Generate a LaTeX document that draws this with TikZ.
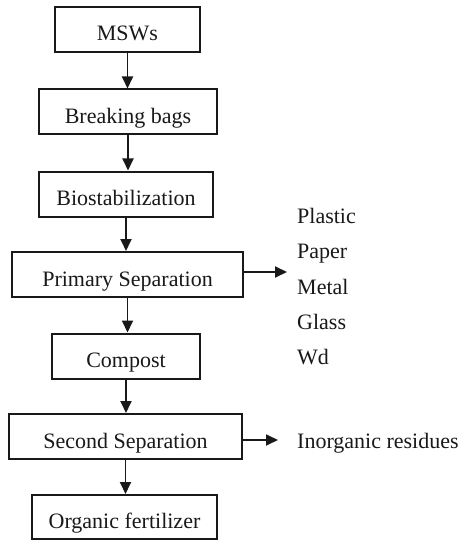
\documentclass[tikz,border=0pt]{standalone}
\usepackage{fontspec}
\setmainfont{Liberation Serif}
\usetikzlibrary{arrows.meta, positioning, calc}

\begin{document}
\begin{tikzpicture}[x=1pt, y=-1pt, >={Triangle[length=12pt, width=11pt]},
    font=\fontsize{22}{26}\selectfont, text=black!90,
    procbox/.style={draw=black!90, line width=2pt, rectangle, inner sep=0pt, minimum height=45pt, text height=26pt, text depth=3pt, align=center},
    flow/.style={->, draw=black!90, line width=1.8pt},
    item/.style={anchor=base west, inner sep=0pt}]
    \fill[white] (0,0) rectangle (462,540);
    \useasboundingbox (0,0) rectangle (462,540);

    % Process boxes
    \node[procbox, minimum width=145pt] (msw) at (127.5,29.5) {MSWs};
    \node[procbox, minimum width=178pt] (bags) at (128,112) {Breaking bags};
    \node[procbox, minimum width=174pt] (bio) at (126,194) {Biostabilization};
    \node[procbox, minimum width=231pt] (prim) at (127.5,274.5) {Primary Separation};
    \node[procbox, minimum width=148pt] (comp) at (126,356) {Compost};
    \node[procbox, minimum width=233pt] (sec) at (125.5,436.5) {Second Separation};
    \node[procbox, minimum width=185pt, minimum height=44pt] (fert) at (124.5,517) {Organic fertilizer};

    % Separated fractions
    \node[item] (plastic) at (297,223.5) {Plastic};
    \node[item] (paper) at (297,258.8) {Paper};
    \node[item] (metal) at (297,294.1) {Metal};
    \node[item] (glass) at (297,329.4) {Glass};
    \node[item] (wd) at (297,364.7) {Wd};
    \node[item] (resid) at (297,448) {Inorganic residues};
    \coordinate (sortend) at (287,272);
    \coordinate (residend) at (278,440);

    % Main flow
    \draw[flow] (msw.south) -- (msw.south |- bags.north);
    \draw[flow] (bags.south) -- (bags.south |- bio.north);
    \draw[flow] (bio.south) -- (bio.south |- prim.north);
    \draw[flow] (prim.south) -- (prim.south |- comp.north);
    \draw[flow] (comp.south) -- (comp.south |- sec.north);
    \draw[flow] (sec.south) -- (sec.south |- fert.north);

    % Side outputs
    \draw[flow] (prim.east |- sortend) -- (sortend);
    \draw[flow] (sec.east |- residend) -- (residend);
\end{tikzpicture}
\end{document}
